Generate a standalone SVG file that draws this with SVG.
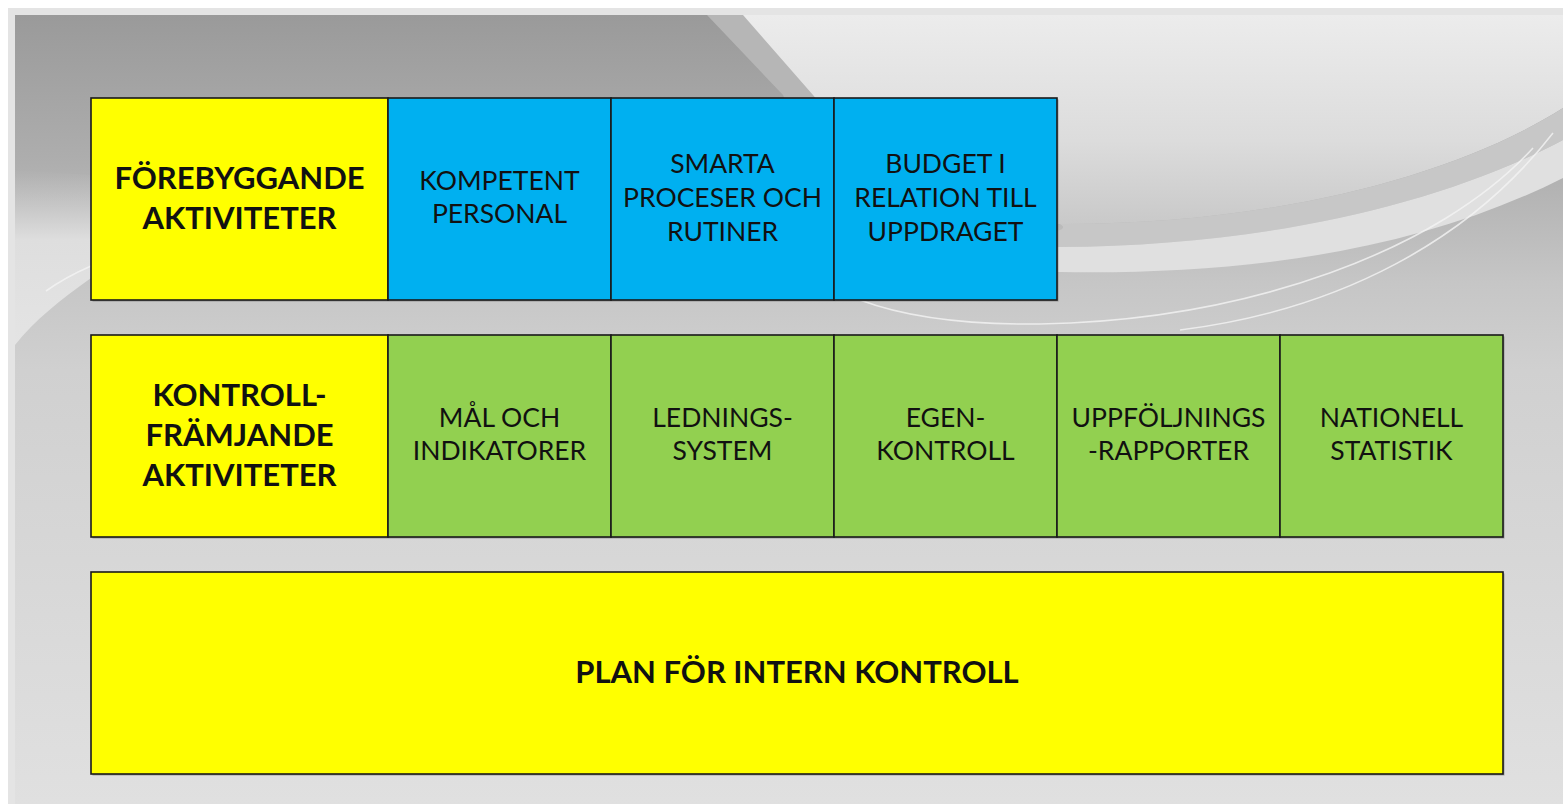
<svg xmlns="http://www.w3.org/2000/svg" width="1563" height="804" viewBox="0 0 1563 804">
<defs>
<linearGradient id="bg" x1="0" y1="0" x2="0" y2="1">
<stop offset="0" stop-color="#9a9a9a"/>
<stop offset="0.18" stop-color="#adadad"/>
<stop offset="0.34" stop-color="#c6c6c6"/>
<stop offset="0.45" stop-color="#d0d0d0"/>
<stop offset="1" stop-color="#e0e0e0"/>
</linearGradient>
<linearGradient id="light" x1="0" y1="0" x2="0" y2="1">
<stop offset="0" stop-color="#ececec"/>
<stop offset="0.6" stop-color="#dcdcdc"/>
<stop offset="1" stop-color="#c9c9c9"/>
</linearGradient>
<linearGradient id="lside" x1="0" y1="0" x2="0" y2="1">
<stop offset="0" stop-color="#cdcdcd" stop-opacity="0"/>
<stop offset="0.4" stop-color="#dedede"/>
<stop offset="1" stop-color="#e4e4e4"/>
</linearGradient>
<style>
.box{stroke:#1a1a1a;stroke-width:1.6}
.y{fill:#ffff00}
.b{fill:#00b0f0}
.g{fill:#92d050}
.sh{fill:#555;opacity:0.45}
text{font-family:Lato,"Open Sans","Liberation Sans",sans-serif;fill:#111;text-anchor:middle}
.r{font-size:26.5px}
.h{font-size:31px;font-weight:bold}
.wl{fill:none;stroke:#f4f4f4;stroke-width:1.6;opacity:0.8}
</style>
</defs>
<g id="background">
<rect x="0" y="0" width="1563" height="804" fill="#ffffff"/>
<rect x="8" y="8" width="1555" height="796" fill="#e4e4e4"/>
<rect x="15" y="15" width="1548" height="789" fill="url(#bg)"/>
<path d="M707,15 L745,15 L815,95 C845,150 880,195 930,222 L890,222 C840,190 805,150 783,95 Z" fill="#b6b6b6"/>
<path d="M743,15 L1563,15 L1563,108 C1450,180 1260,225 1060,224 C960,223 880,180 813,95 Z" fill="url(#light)"/>
<path d="M900,228 C1000,236 1080,236 1060,224 C1260,225 1450,180 1563,108 L1563,140 C1430,210 1250,246 1060,247 C990,247 940,240 900,235 Z" fill="#c7c7c7"/>
<path d="M880,243 C980,250 1020,248 1060,247 C1250,246 1430,210 1563,140 L1563,178 C1420,250 1250,275 1060,272 C990,271 940,262 880,255 Z" fill="#e0e0e0"/>
<path class="wl" d="M1553,133 C1470,240 1340,310 1180,330"/>
<path class="wl" d="M1533,148 C1440,250 1250,320 1040,324 C960,325 900,315 860,300"/>
<path d="M15,170 L91,175 L91,278 C60,300 35,320 15,345 Z" fill="url(#lside)"/>
<path class="wl" d="M91,266 C75,273 60,281 46,291"/>
</g>
<g id="row1">
<g id="n-forebyggande">
<rect class="sh" x="92.5" y="99.5" width="297" height="202"/>
<rect class="box y" x="91" y="98" width="297" height="202"/>
<text class="h" x="239.5" y="189">FÖREBYGGANDE</text>
<text class="h" x="239.5" y="229">AKTIVITETER</text>
</g>
<g id="n-kompetent">
<rect class="sh" x="389.5" y="99.5" width="223" height="202"/>
<rect class="box b" x="388" y="98" width="223" height="202"/>
<text class="r" x="499.5" y="190">KOMPETENT</text>
<text class="r" x="499.5" y="223">PERSONAL</text>
</g>
<g id="n-smarta">
<rect class="sh" x="612.5" y="99.5" width="223" height="202"/>
<rect class="box b" x="611" y="98" width="223" height="202"/>
<text class="r" x="722.5" y="173">SMARTA</text>
<text class="r" x="722.5" y="207">PROCESER OCH</text>
<text class="r" x="722.5" y="241">RUTINER</text>
</g>
<g id="n-budget">
<rect class="sh" x="835.5" y="99.5" width="223" height="202"/>
<rect class="box b" x="834" y="98" width="223" height="202"/>
<text class="r" x="945.5" y="173">BUDGET I</text>
<text class="r" x="945.5" y="207">RELATION TILL</text>
<text class="r" x="945.5" y="241">UPPDRAGET</text>
</g>
</g>
<g id="row2">
<g id="n-kontrollframjande">
<rect class="sh" x="92.5" y="336.5" width="297" height="202"/>
<rect class="box y" x="91" y="335" width="297" height="202"/>
<text class="h" x="239.5" y="406">KONTROLL-</text>
<text class="h" x="239.5" y="446">FRÄMJANDE</text>
<text class="h" x="239.5" y="486">AKTIVITETER</text>
</g>
<g id="n-mal">
<rect class="sh" x="389.5" y="336.5" width="223" height="202"/>
<rect class="box g" x="388" y="335" width="223" height="202"/>
<text class="r" x="499.5" y="427">MÅL OCH</text>
<text class="r" x="499.5" y="460">INDIKATORER</text>
</g>
<g id="n-lednings">
<rect class="sh" x="612.5" y="336.5" width="223" height="202"/>
<rect class="box g" x="611" y="335" width="223" height="202"/>
<text class="r" x="722.5" y="427">LEDNINGS-</text>
<text class="r" x="722.5" y="460">SYSTEM</text>
</g>
<g id="n-egen">
<rect class="sh" x="835.5" y="336.5" width="223" height="202"/>
<rect class="box g" x="834" y="335" width="223" height="202"/>
<text class="r" x="945.5" y="427">EGEN-</text>
<text class="r" x="945.5" y="460">KONTROLL</text>
</g>
<g id="n-uppfoljning">
<rect class="sh" x="1058.5" y="336.5" width="223" height="202"/>
<rect class="box g" x="1057" y="335" width="223" height="202"/>
<text class="r" x="1168.5" y="427">UPPFÖLJNINGS</text>
<text class="r" x="1168.5" y="460">-RAPPORTER</text>
</g>
<g id="n-nationell">
<rect class="sh" x="1281.5" y="336.5" width="223" height="202"/>
<rect class="box g" x="1280" y="335" width="223" height="202"/>
<text class="r" x="1391.5" y="427">NATIONELL</text>
<text class="r" x="1391.5" y="460">STATISTIK</text>
</g>
</g>
<g id="n-plan">
<rect class="sh" x="92.5" y="573.5" width="1412" height="202"/>
<rect class="box y" x="91" y="572" width="1412" height="202"/>
<text class="h" x="797" y="683">PLAN FÖR INTERN KONTROLL</text>
</g>
<g id="connectors"/>
</svg>
